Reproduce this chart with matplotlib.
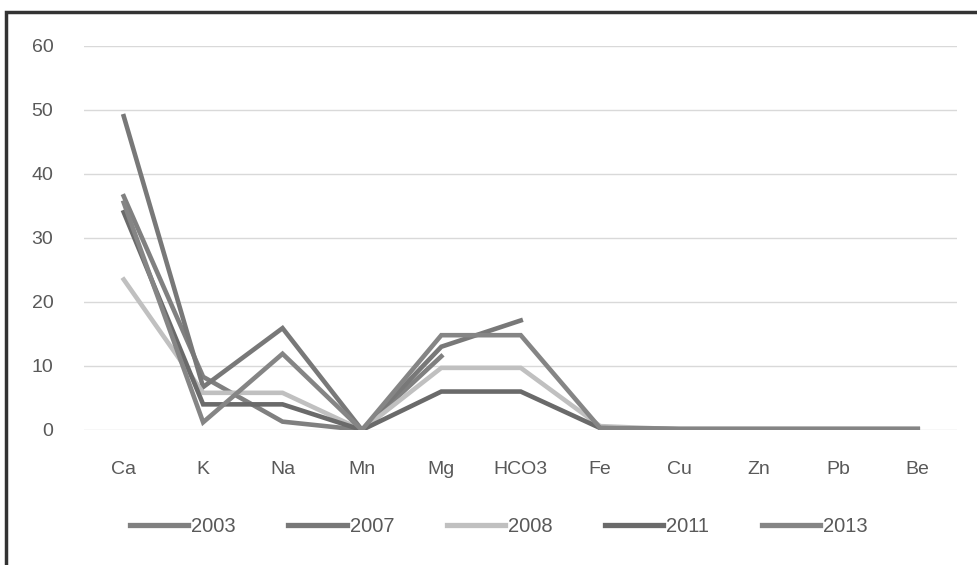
import matplotlib
matplotlib.use('Agg')
import matplotlib.pyplot as plt
import numpy as np
from matplotlib.patches import Rectangle

# categories and series
elements = ['Ca', 'K', 'Na', 'Mn', 'Mg', 'HCO3', 'Fe', 'Cu', 'Zn', 'Pb', 'Be']
nan = np.nan
v2003 = [36.5, 8.3, 1.3, 0, 11.5, nan, nan, nan, nan, nan, nan]
v2007 = [49.0, 6.7, 15.9, 0, 13.0, 17.1, nan, nan, nan, nan, nan]
v2008 = [23.5, 5.8, 5.8, 0, 9.7, 9.7, 0.6, 0.1, 0.1, 0.1, 0.1]
v2011 = [34.0, 4.0, 4.0, 0, 6.0, 6.0, 0.3, 0.1, 0.1, 0.1, 0.1]
v2013 = [35.5, 1.2, 11.9, 0, 14.8, 14.8, 0.3, 0.2, 0.2, 0.2, 0.2]
years = ['2003', '2007', '2008', '2011', '2013']
series = [v2003, v2007, v2008, v2011, v2013]
colors = ['#808080', '#787878', '#c0c0c0', '#6a6a6a', '#858585']

plt.rcParams['font.family'] = ['Liberation Sans', 'DejaVu Sans']

fig = plt.figure(figsize=(9.77, 5.65), dpi=100)
ax = fig.add_axes([0.086, 0.239, 0.894, 0.68])

x = np.arange(len(elements))
for name, vals, c in zip(years, series, colors):
    ax.plot(x, vals, color=c, lw=3.3, label=name, solid_joinstyle='miter')

ax.set_xlim(-0.5, len(elements) - 0.5)
ax.set_ylim(0, 60)
ax.set_yticks(range(0, 61, 10))
ax.set_xticks(x)
ax.set_xticklabels(elements)
ax.grid(axis='y', color='#d9d9d9', lw=1)
ax.set_axisbelow(True)
for s in ax.spines.values():
    s.set_visible(False)
ax.tick_params(length=0, labelsize=14, colors='#595959')
ax.tick_params(axis='x', pad=22)
ax.tick_params(axis='y', pad=22)

leg = ax.legend(loc='upper center', bbox_to_anchor=(0.475, -0.18), ncol=5, frameon=False,
                fontsize=14.5, handlelength=2.9, handletextpad=0.15, columnspacing=2.6)
for t in leg.get_texts():
    t.set_color('#595959')
for h in leg.get_lines():
    h.set_linewidth(3.8)

# outer frame of the chart area
fig.patches.append(Rectangle((6 / 977, -0.05), 1.1, 1.05 - 12 / 565, transform=fig.transFigure,
                             fill=False, edgecolor='#333333', lw=2.5))

fig.savefig('out.png', dpi=100)
